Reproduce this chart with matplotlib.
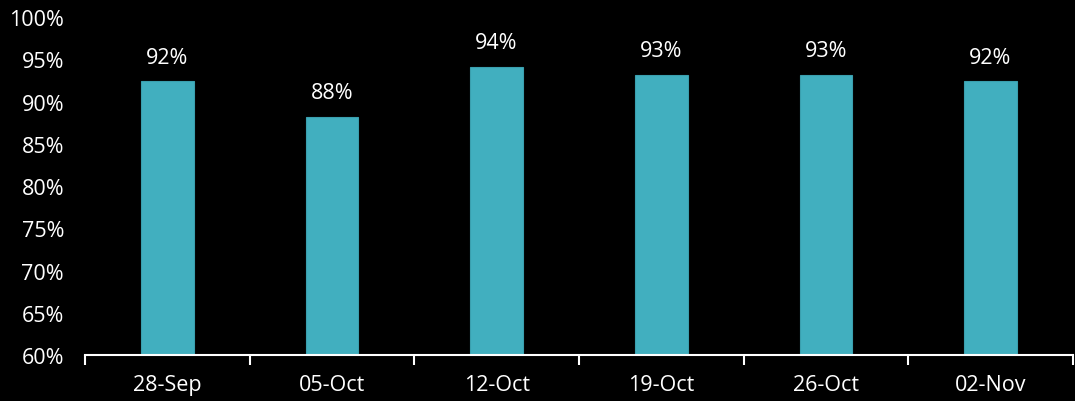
import matplotlib
matplotlib.use("Agg")
import matplotlib.pyplot as plt
from matplotlib.ticker import FuncFormatter, MultipleLocator

# semanas e percentuais
weeks = ['28-Sep', '05-Oct', '12-Oct', '19-Oct', '26-Oct', '02-Nov']
rates = [92.4, 88.2, 94.1, 93.2, 93.2, 92.4]
labels = ['92%', '88%', '94%', '93%', '93%', '92%']

plt.rcParams['font.family'] = ['Open Sans', 'DejaVu Sans']

fig = plt.figure(figsize=(10.75, 4.02), dpi=100, facecolor='black')
ax = fig.add_axes([0.079, 0.1144, 0.919, 0.8406], facecolor='black')

x = range(len(weeks))
bars = ax.bar(x, rates, width=0.32, color='#41AFBF', edgecolor='#3A9FAE',
              linewidth=0.8)
for xi, v, lab in zip(x, rates, labels):
    ax.text(xi, v + 1.6, lab, ha='center', va='bottom', color='white', fontsize=15.5)

ax.set_ylim(60, 100)
ax.set_xlim(-0.5, len(weeks) - 0.5)
ax.yaxis.set_major_locator(MultipleLocator(5))
ax.yaxis.set_major_formatter(FuncFormatter(lambda v, p: '%d%%' % v))
ax.tick_params(axis='y', length=0, colors='white', labelsize=15.5, pad=15)

ax.set_xticks(x)
ax.set_xticklabels(weeks)
ax.set_xticks([i - 0.5 for i in range(len(weeks) + 1)], minor=True)
ax.tick_params(axis='x', which='major', length=0, colors='white', labelsize=15.5, pad=14)
ax.tick_params(axis='x', which='minor', length=7, width=1.5, color='white', direction='out')

for s in ['left', 'right', 'top']:
    ax.spines[s].set_visible(False)
ax.spines['bottom'].set_color('white')
ax.spines['bottom'].set_linewidth(1.5)

fig.savefig('out.png', dpi=100, facecolor='black')
